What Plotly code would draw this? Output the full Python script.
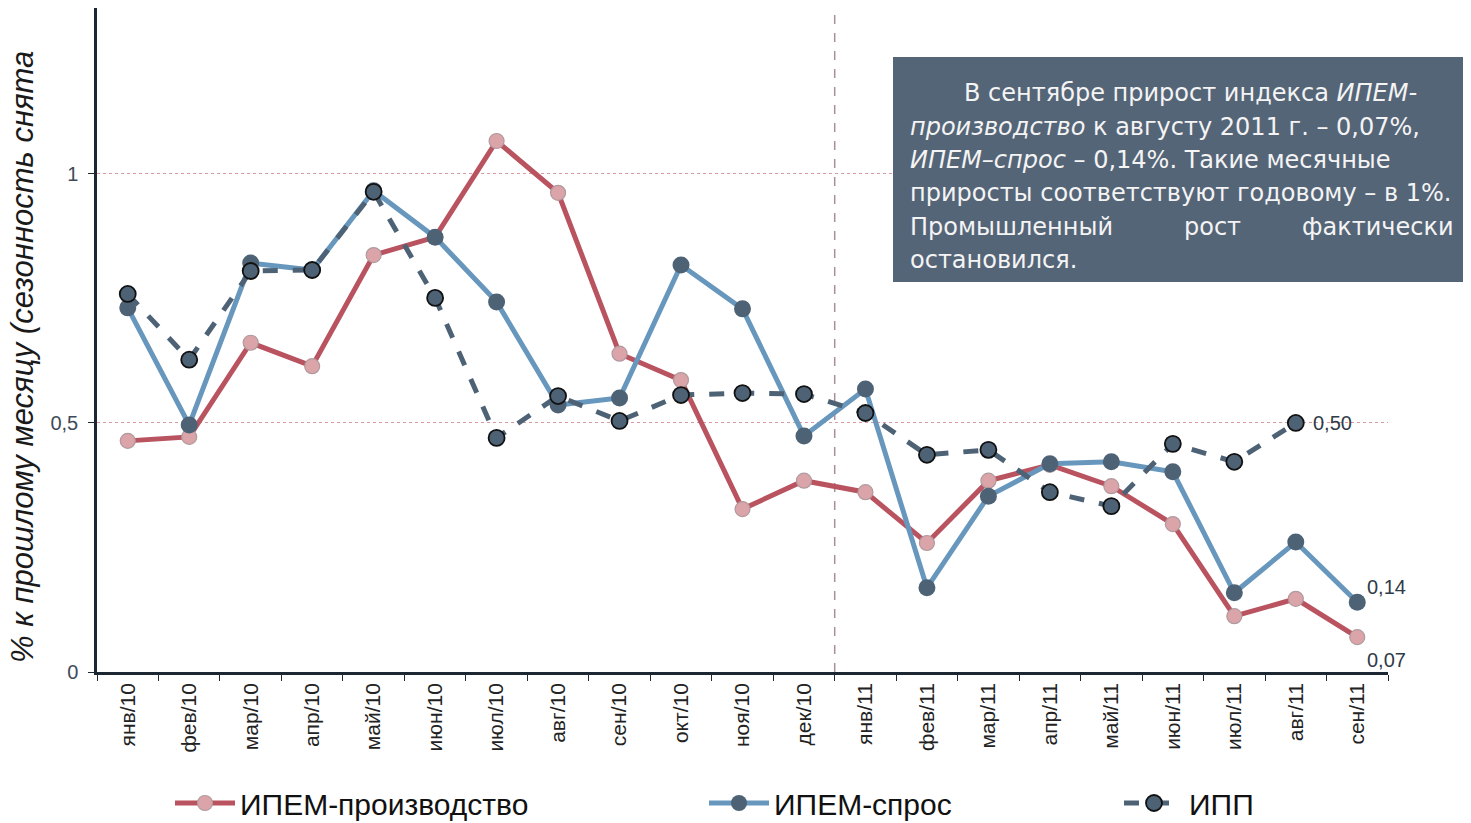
import plotly.graph_objects as go

# Месяцы
months = ["янв/10", "фев/10", "мар/10", "апр/10", "май/10", "июн/10", "июл/10",
          "авг/10", "сен/10", "окт/10", "ноя/10", "дек/10", "янв/11", "фев/11",
          "мар/11", "апр/11", "май/11", "июн/11", "июл/11", "авг/11", "сен/11"]

# ИПЕМ-производство, % к прошлому месяцу
ipem_prod = [0.464, 0.472, 0.661, 0.614, 0.837, 0.873, 1.066, 0.962, 0.639, 0.586,
             0.327, 0.384, 0.361, 0.259, 0.384, 0.416, 0.373, 0.297, 0.112, 0.147, 0.07]

# ИПЕМ-спрос
ipem_demand = [0.731, 0.496, 0.821, 0.807, 0.966, 0.873, 0.743, 0.536, 0.550, 0.817,
               0.729, 0.474, 0.568, 0.169, 0.353, 0.418, 0.422, 0.402, 0.159, 0.261, 0.14]

# ИПП (за сентябрь 2011 данных нет)
ipp = [0.759, 0.627, 0.805, 0.807, 0.964, 0.751, 0.470, 0.554, 0.504, 0.556,
       0.560, 0.558, 0.520, 0.436, 0.446, 0.361, 0.333, 0.458, 0.422, 0.50, None]

# страница имеет отступ body 8px, поэтому фигура чуть меньше окна
OFF = 8
W, H = 1471 - OFF, 823 - OFF
ML, MR, MT, MB = 97 - OFF, 83, 0, 151
PW, PH = W - ML - MR, H - MT - MB


def px(x):
    # x в пикселях окна -> доля paper
    return (x - OFF - ML) / PW


def py(y):
    return (H - MB - (y - OFF)) / PH


RED = "#b9535f"
BLUE = "#6897bd"
SLATE = "#4e6276"

fig = go.Figure()

fig.add_trace(go.Scatter(
    x=months, y=ipem_prod, mode="lines+markers", name="ИПЕМ-производство",
    line=dict(color=RED, width=5),
    marker=dict(size=15, color="#dba4a9", line=dict(color="#b09a9e", width=1.2)),
    legend="legend",
))
fig.add_trace(go.Scatter(
    x=months, y=ipem_demand, mode="lines+markers", name="ИПЕМ-спрос",
    line=dict(color=BLUE, width=5),
    marker=dict(size=17, color=SLATE, line=dict(color=SLATE, width=0)),
    legend="legend2",
))
fig.add_trace(go.Scatter(
    x=months, y=ipp, mode="lines+markers", name="ИПП",
    line=dict(color=SLATE, width=5, dash="dash"),
    marker=dict(size=16, color=SLATE, line=dict(color="#111111", width=1.8)),
    legend="legend3",
))

# разделитель 2010 / 2011
fig.add_shape(type="line", xref="x", yref="paper", x0=11.5, x1=11.5, y0=0, y1=1,
              line=dict(color="#a89096", width=1.5, dash="dash"), layer="below")

# подписи последних значений
end_font = dict(family="Liberation Sans, Arial", size=20, color="#2f3b48")
fig.add_annotation(x=months[19], y=ipp[19], text="0,50", showarrow=False,
                   xanchor="left", xshift=15, font=end_font)
fig.add_annotation(x=months[20], y=ipem_demand[20], text="0,14", showarrow=False,
                   xanchor="left", xshift=8, yshift=15, font=end_font)
fig.add_annotation(x=months[20], y=ipem_prod[20], text="0,07", showarrow=False,
                   xanchor="left", xshift=8, yshift=-23, font=end_font)

# заголовок оси Y
fig.add_annotation(xref="paper", yref="paper", x=px(22), y=py(665),
                   text="% к прошлому месяцу (сезонность снята", textangle=-90,
                   showarrow=False, xanchor="center", yanchor="bottom",
                   font=dict(family="Liberation Sans, Arial", size=31, color="#1a1a1a", style="italic"))

# текстовый блок
fig.add_shape(type="rect", xref="paper", yref="paper",
              x0=px(893), x1=px(1471), y0=py(282), y1=py(57),
              fillcolor="#556578", line=dict(width=0), layer="above")

box_font = dict(family="DejaVu Sans", size=24, color="#f4f4f4")
box_lines = [
    (962, 93, "В сентябре прирост индекса <i>ИПЕМ-</i>"),
    (908, 127, "<i>производство</i> к августу 2011 г. – 0,07%,"),
    (908, 160, "<i>ИПЕМ–спрос</i> – 0,14%. Такие месячные"),
    (908, 193, "приросты соответствуют годовому – в 1%."),
    (908, 227, "Промышленный"),
    (908, 260, "остановился."),
]
for x0, y0, t in box_lines:
    fig.add_annotation(xref="paper", yref="paper", x=px(x0), y=py(y0), text=t,
                       showarrow=False, xanchor="left", yanchor="middle", font=box_font)
fig.add_annotation(xref="paper", yref="paper", x=px(1212), y=py(227), text="рост",
                   showarrow=False, xanchor="center", yanchor="middle", font=box_font)
fig.add_annotation(xref="paper", yref="paper", x=px(1456), y=py(227), text="фактически",
                   showarrow=False, xanchor="right", yanchor="middle", font=box_font)

leg_font = dict(family="Liberation Sans, Arial", size=30, color="#111111")
leg_common = dict(orientation="h", yanchor="middle", xanchor="left", font=leg_font,
                  bgcolor="rgba(0,0,0,0)", itemwidth=60)

fig.update_layout(
    width=W, height=H,
    margin=dict(l=ML, r=MR, t=MT, b=MB, autoexpand=False),
    paper_bgcolor="white", plot_bgcolor="white",
    separators=", ",
    showlegend=True,
    font=dict(family="Liberation Sans, Arial"),
    legend=dict(x=px(170), y=py(803), **leg_common),
    legend2=dict(x=px(704), y=py(803), **leg_common),
    legend3=dict(x=px(1119), y=py(803), **leg_common),
    xaxis=dict(
        type="category", range=[-0.5, 20.5], tickangle=-90,
        showline=True, linecolor="#1c2733", linewidth=2.5,
        ticks="outside", tickson="boundaries", ticklen=6, tickcolor="#1c2733",
        showgrid=False,
        tickfont=dict(family="Liberation Sans, Arial", size=21, color="#222222"),
    ),
    yaxis=dict(
        range=[0, 1.333], tickvals=[0, 0.5, 1], ticktext=["0", "0,5", "1"],
        showline=True, linecolor="#1c2733", linewidth=2.5,
        ticks="outside", ticklen=6, tickcolor="#1c2733", ticklabelstandoff=6,
        showgrid=True, gridcolor="#d99aa0", griddash="dot", gridwidth=1,
        zeroline=False,
        tickfont=dict(family="Liberation Sans, Arial", size=20, color="#3e4a5a"),
    ),
)

fig.write_html("out.html")
